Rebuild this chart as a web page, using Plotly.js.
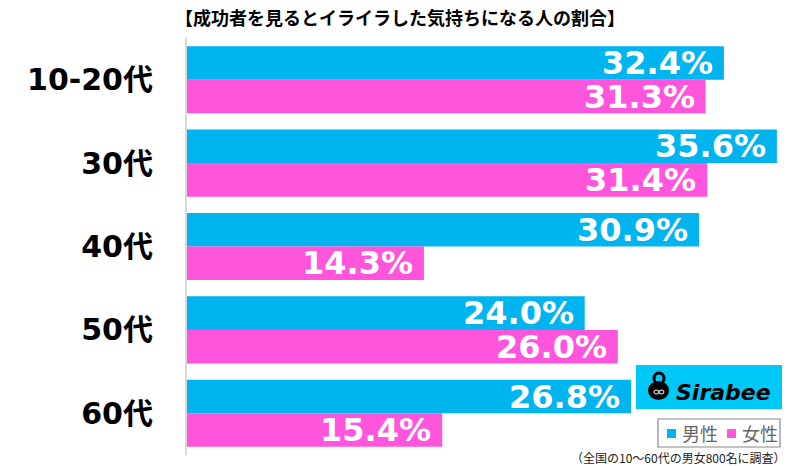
<!DOCTYPE html>
<html><head><meta charset="utf-8">
<script src="https://cdn.plot.ly/plotly-3.0.1.min.js"></script>
<style>html,body{margin:0;padding:0;background:#fff}#chart{width:800px;height:466px}</style>
</head><body><div id="chart"></div>
<script>
const categories = ["10-20代", "30代", "40代", "50代", "60代"];
const male = [32.4, 35.6, 30.9, 24.0, 26.8];
const female = [31.3, 31.4, 14.3, 26.0, 15.4];
const seriesNames = ["男性", "女性"];
const titleText = "【成功者を見るとイライラした気持ちになる人の割合】";
const noteText = "（全国の10〜60代の男女800名に調査）";
const logoText = "Sirabee";

const CJK = "'Noto Sans CJK JP', 'Noto Sans', sans-serif";
const NUM = "'DejaVu Sans', 'Noto Sans CJK JP', sans-serif";
const blue = "#00B4F0", pink = "#FF55DD";
const fmt = v => v.toFixed(1) + "%";

// plot area in pixels: x 187..790, y 38..455
const L = 187, R = 10, T = 38, B = 11, W = 800, H = 466;
const PW = W - L - R, PH = H - T - B;
const px = x => (x - L) / PW;
const py = y => (H - B - y) / PH;

const common = {type: "bar", orientation: "h", hoverinfo: "skip", textposition: "none"};
const traces = [
  Object.assign({}, common, {name: seriesNames[0], y: categories, x: male, marker: {color: blue}}),
  Object.assign({}, common, {name: seriesNames[1], y: categories, x: female, marker: {color: pink}})
];

const annotations = [];
const labelFont = {family: NUM, size: 32, color: "#fff", weight: 700};
categories.forEach((c, i) => {
  annotations.push({x: male[i], y: c, xref: "x", yref: "y", xanchor: "right", yanchor: "middle",
    xshift: -9, yshift: 16.8, text: "<b>" + fmt(male[i]) + "</b>", showarrow: false, font: labelFont});
  annotations.push({x: female[i], y: c, xref: "x", yref: "y", xanchor: "right", yanchor: "middle",
    xshift: -9, yshift: -16.8, text: "<b>" + fmt(female[i]) + "</b>", showarrow: false, font: labelFont});
});
// logo text
annotations.push({xref: "paper", yref: "paper", x: px(773), y: py(392), xanchor: "right", yanchor: "middle",
  text: "<b><i>" + logoText + "</i></b>", showarrow: false,
  font: {family: "'DejaVu Sans', sans-serif", size: 22, color: "#000"}});
// legend texts
annotations.push({xref: "paper", yref: "paper", x: px(680), y: py(433), xanchor: "left", yanchor: "middle",
  text: seriesNames[0], showarrow: false, font: {family: CJK, size: 18, color: "#666"}});
annotations.push({xref: "paper", yref: "paper", x: px(740), y: py(433), xanchor: "left", yanchor: "middle",
  text: seriesNames[1], showarrow: false, font: {family: CJK, size: 18, color: "#666"}});
// footnote
annotations.push({xref: "paper", yref: "paper", x: px(788), y: py(457), xanchor: "right", yanchor: "middle",
  text: noteText, showarrow: false, font: {family: CJK, size: 12, color: "#222"}});

const shapes = [
  // logo box
  {type: "rect", xref: "paper", yref: "paper", x0: px(636), x1: px(782), y0: py(409), y1: py(365),
    fillcolor: "#00C8F8", line: {width: 0}, layer: "above"},
  {type: "circle", xref: "paper", yref: "paper", x0: px(648), x1: px(669), y0: py(400), y1: py(381),
    fillcolor: "#000", line: {width: 0}, layer: "above"},
  {type: "circle", xref: "paper", yref: "paper", x0: px(654), x1: px(664), y0: py(384), y1: py(373),
    fillcolor: "rgba(0,0,0,0)", line: {width: 3, color: "#000"}, layer: "above"},
  {type: "circle", xref: "paper", yref: "paper", x0: px(654), x1: px(659), y0: py(394), y1: py(390),
    fillcolor: "rgba(0,0,0,0)", line: {width: 1, color: "#fff"}, layer: "above"},
  {type: "circle", xref: "paper", yref: "paper", x0: px(659), x1: px(664), y0: py(394), y1: py(390),
    fillcolor: "rgba(0,0,0,0)", line: {width: 1, color: "#fff"}, layer: "above"},
  // legend box
  {type: "rect", xref: "paper", yref: "paper", x0: px(658), x1: px(780), y0: py(447), y1: py(419),
    fillcolor: "#fff", line: {width: 1.2, color: "#888"}, layer: "above"},
  {type: "rect", xref: "paper", yref: "paper", x0: px(667), x1: px(676), y0: py(438), y1: py(429),
    fillcolor: blue, line: {width: 0}, layer: "above"},
  {type: "rect", xref: "paper", yref: "paper", x0: px(727), x1: px(736), y0: py(438), y1: py(429),
    fillcolor: pink, line: {width: 0}, layer: "above"}
];

const layout = {
  width: W, height: H,
  margin: {l: L, r: R, t: T, b: B},
  paper_bgcolor: "#fff", plot_bgcolor: "#fff",
  barmode: "group", bargap: 0.195, bargroupgap: 0,
  showlegend: false,
  title: {text: "<b>" + titleText + "</b>", x: 0.5, xanchor: "center", xref: "container",
    y: 1 - 19 / H, yref: "container", yanchor: "middle",
    font: {family: CJK, size: 18, color: "#000"}},
  xaxis: {range: [0, PW / 16.57], showgrid: false, zeroline: false, showticklabels: false, ticks: "", fixedrange: true},
  yaxis: {autorange: "reversed", type: "category", showgrid: false, zeroline: false,
    showline: true, linecolor: "#d9d9d9", linewidth: 2,
    ticks: "", ticklabelstandoff: 26,
    tickfont: {family: NUM, size: 30, color: "#000", weight: 700}},
  shapes: shapes,
  annotations: annotations
};
Plotly.newPlot("chart", traces, layout, {displayModeBar: false, staticPlot: true});
</script></body></html>
